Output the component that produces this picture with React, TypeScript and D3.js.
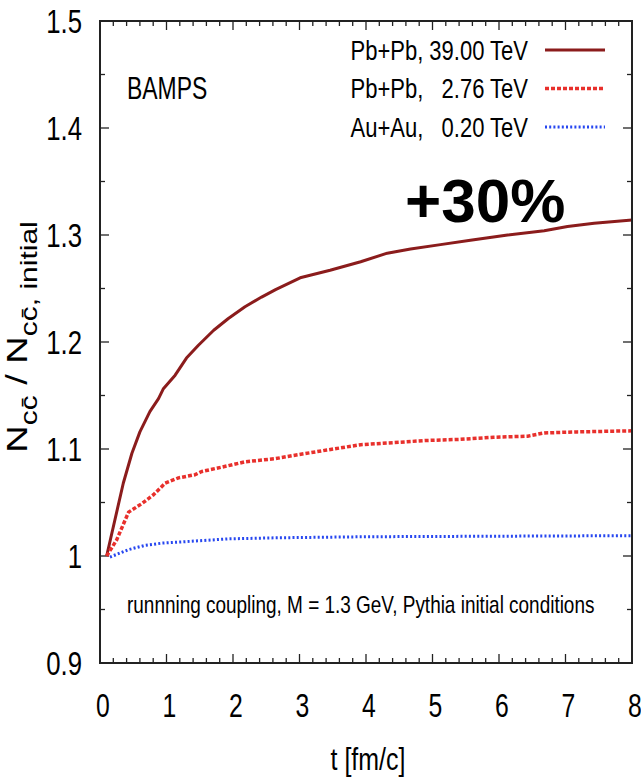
import React from "react";
import * as d3 from "d3";

const tPb39 = [0.1, 0.35, 0.48, 0.6, 0.75, 0.88, 0.95, 1.13, 1.3, 1.48, 1.71, 1.93, 2.18, 2.43, 2.64, 3.01, 3.46, 3.92, 4.32, 4.67, 5.12, 5.57, 6.13, 6.68, 7.03, 7.43, 8.0];
const yPb39 = [1.0, 1.068, 1.096, 1.116, 1.135, 1.147, 1.156, 1.169, 1.185, 1.197, 1.211, 1.222, 1.233, 1.242, 1.249, 1.26, 1.267, 1.275, 1.283, 1.287, 1.291, 1.295, 1.3, 1.304, 1.308, 1.311, 1.314];

const tPb276 = [0.1, 0.25, 0.43, 0.63, 0.8, 0.98, 1.18, 1.43, 1.53, 1.83, 2.18, 2.64, 2.91, 3.41, 3.92, 4.42, 4.92, 5.42, 5.92, 6.43, 6.68, 7.18, 8.0];
const yPb276 = [1.0, 1.015, 1.041, 1.049, 1.057, 1.068, 1.073, 1.076, 1.079, 1.083, 1.088, 1.091, 1.094, 1.099, 1.104, 1.106, 1.108, 1.109, 1.111, 1.112, 1.115, 1.116, 1.117];

const tAu = [0.15, 0.43, 0.68, 0.93, 1.43, 1.93, 2.64, 4.0, 6.0, 8.0];
const yAu = [0.999, 1.006, 1.01, 1.012, 1.014, 1.016, 1.017, 1.018, 1.0185, 1.019];

const xTicks = [0, 1, 2, 3, 4, 5, 6, 7, 8];
const yTicks = [0.9, 1.0, 1.1, 1.2, 1.3, 1.4, 1.5];
const legendLabels = ["Pb+Pb, 39.00 TeV", "Pb+Pb,   2.76 TeV", "Au+Au,   0.20 TeV"];

const W = 641, H = 783;
const L = 100, R = 632, T = 21, B = 663;
const FONT = "'Liberation Sans', Arial, sans-serif";

function CText(props: { x: number; y: number; sx: number; size: number; anchor?: string; dy?: string; children: any }) {
  const { x, y, sx, size, anchor, dy, children } = props;
  return (
    <text
      transform={`translate(${x},${y}) scale(${sx},1)`}
      fontFamily={FONT}
      fontSize={size}
      textAnchor={anchor || "start"}
      dy={dy}
      fill="#000"
      style={{ whiteSpace: "pre" }}
    >
      {children}
    </text>
  );
}

export default function App() {
  const x = d3.scaleLinear().domain([0, 8]).range([L, R]);
  const y = d3.scaleLinear().domain([0.9, 1.5]).range([B, T]);
  const line = d3.line<[number, number]>().x(d => x(d[0])).y(d => y(d[1])).curve(d3.curveLinear);

  const s1 = tPb39.map((t, i) => [t, yPb39[i]] as [number, number]);
  const s2 = tPb276.map((t, i) => [t, yPb276[i]] as [number, number]);
  const s3 = tAu.map((t, i) => [t, yAu[i]] as [number, number]);

  const series = [
    { d: s1, color: "#8b1c1c", dash: "none", w: 3 },
    { d: s2, color: "#e8302c", dash: "4 2", w: 3.5 },
    { d: s3, color: "#2747f0", dash: "2 2.2", w: 3 },
  ];

  const xMinor = d3.range(0, 8.001, 0.2).filter(v => Math.abs(v - Math.round(v)) > 1e-6);
  const yMinor = d3.range(0.95, 1.5, 0.1);
  const cbar = "c\u0304";

  return (
    <svg width={W} height={H} style={{ position: "absolute", left: 0, top: 0, background: "#fff" }}>
      <rect x={0} y={0} width={W} height={H} fill="#fff" />
      <g fill="none" stroke="#222" strokeWidth={1.3}>
        {xTicks.map(v => (
          <g key={"xt" + v}>
            <line x1={x(v)} x2={x(v)} y1={B} y2={B - 9} />
            <line x1={x(v)} x2={x(v)} y1={T} y2={T + 9} />
          </g>
        ))}
        {xMinor.map(v => (
          <g key={"xm" + v}>
            <line x1={x(v)} x2={x(v)} y1={B} y2={B - 5} />
            <line x1={x(v)} x2={x(v)} y1={T} y2={T + 5} />
          </g>
        ))}
        {yTicks.map(v => (
          <g key={"yt" + v}>
            <line x1={L} x2={L + 9} y1={y(v)} y2={y(v)} />
            <line x1={R} x2={R - 9} y1={y(v)} y2={y(v)} />
          </g>
        ))}
        {yMinor.map(v => (
          <g key={"ym" + v}>
            <line x1={L} x2={L + 5} y1={y(v)} y2={y(v)} />
            <line x1={R} x2={R - 5} y1={y(v)} y2={y(v)} />
          </g>
        ))}
      </g>
      {series.map((s, i) => (
        <path key={"s" + i} d={line(s.d) || ""} fill="none" stroke={s.color} strokeWidth={s.w} strokeDasharray={s.dash} strokeLinejoin="round" />
      ))}
      <rect x={L} y={T} width={R - L} height={B - T} fill="none" stroke="#222" strokeWidth={2} />

      {yTicks.map(v => (
        <CText key={"yl" + v} x={82} y={y(v)} dy="0.36em" sx={0.78} size={33} anchor="end">
          {v === 1 ? "1" : d3.format(".1f")(v)}
        </CText>
      ))}
      {xTicks.map(v => (
        <CText key={"xl" + v} x={x(v) + 3} y={717} sx={0.75} size={33} anchor="middle">{String(v)}</CText>
      ))}
      <CText x={368} y={770} sx={0.78} size={32} anchor="middle">t [fm/c]</CText>

      <text transform="translate(27,337) scale(0.8,1) rotate(-90)" textAnchor="middle" fontFamily={FONT} fontSize={38} fill="#000">
        <tspan>N</tspan>
        <tspan fontSize={30} dy={13}>{"c" + cbar}</tspan>
        <tspan dy={-13}> / N</tspan>
        <tspan fontSize={30} dy={13}>{"c" + cbar + ", initial"}</tspan>
      </text>

      {legendLabels.map((lab, i) => (
        <g key={"lg" + i}>
          <CText x={528} y={50 + i * 38.5} dy="0.36em" sx={0.8} size={27.5} anchor="end">{lab}</CText>
          <line x1={545} x2={605} y1={50 + i * 38.5} y2={50 + i * 38.5} stroke={series[i].color} strokeWidth={series[i].w} strokeDasharray={series[i].dash} />
        </g>
      ))}
      <CText x={127} y={99} sx={0.74} size={31}>BAMPS</CText>
      <CText x={127} y={613} sx={0.79} size={24}>runnning coupling, M = 1.3 GeV, Pythia initial conditions</CText>
      <text x={405} y={222} fontFamily={FONT} fontWeight="bold" fontSize={62} fill="#000">+30%</text>
    </svg>
  );
}
